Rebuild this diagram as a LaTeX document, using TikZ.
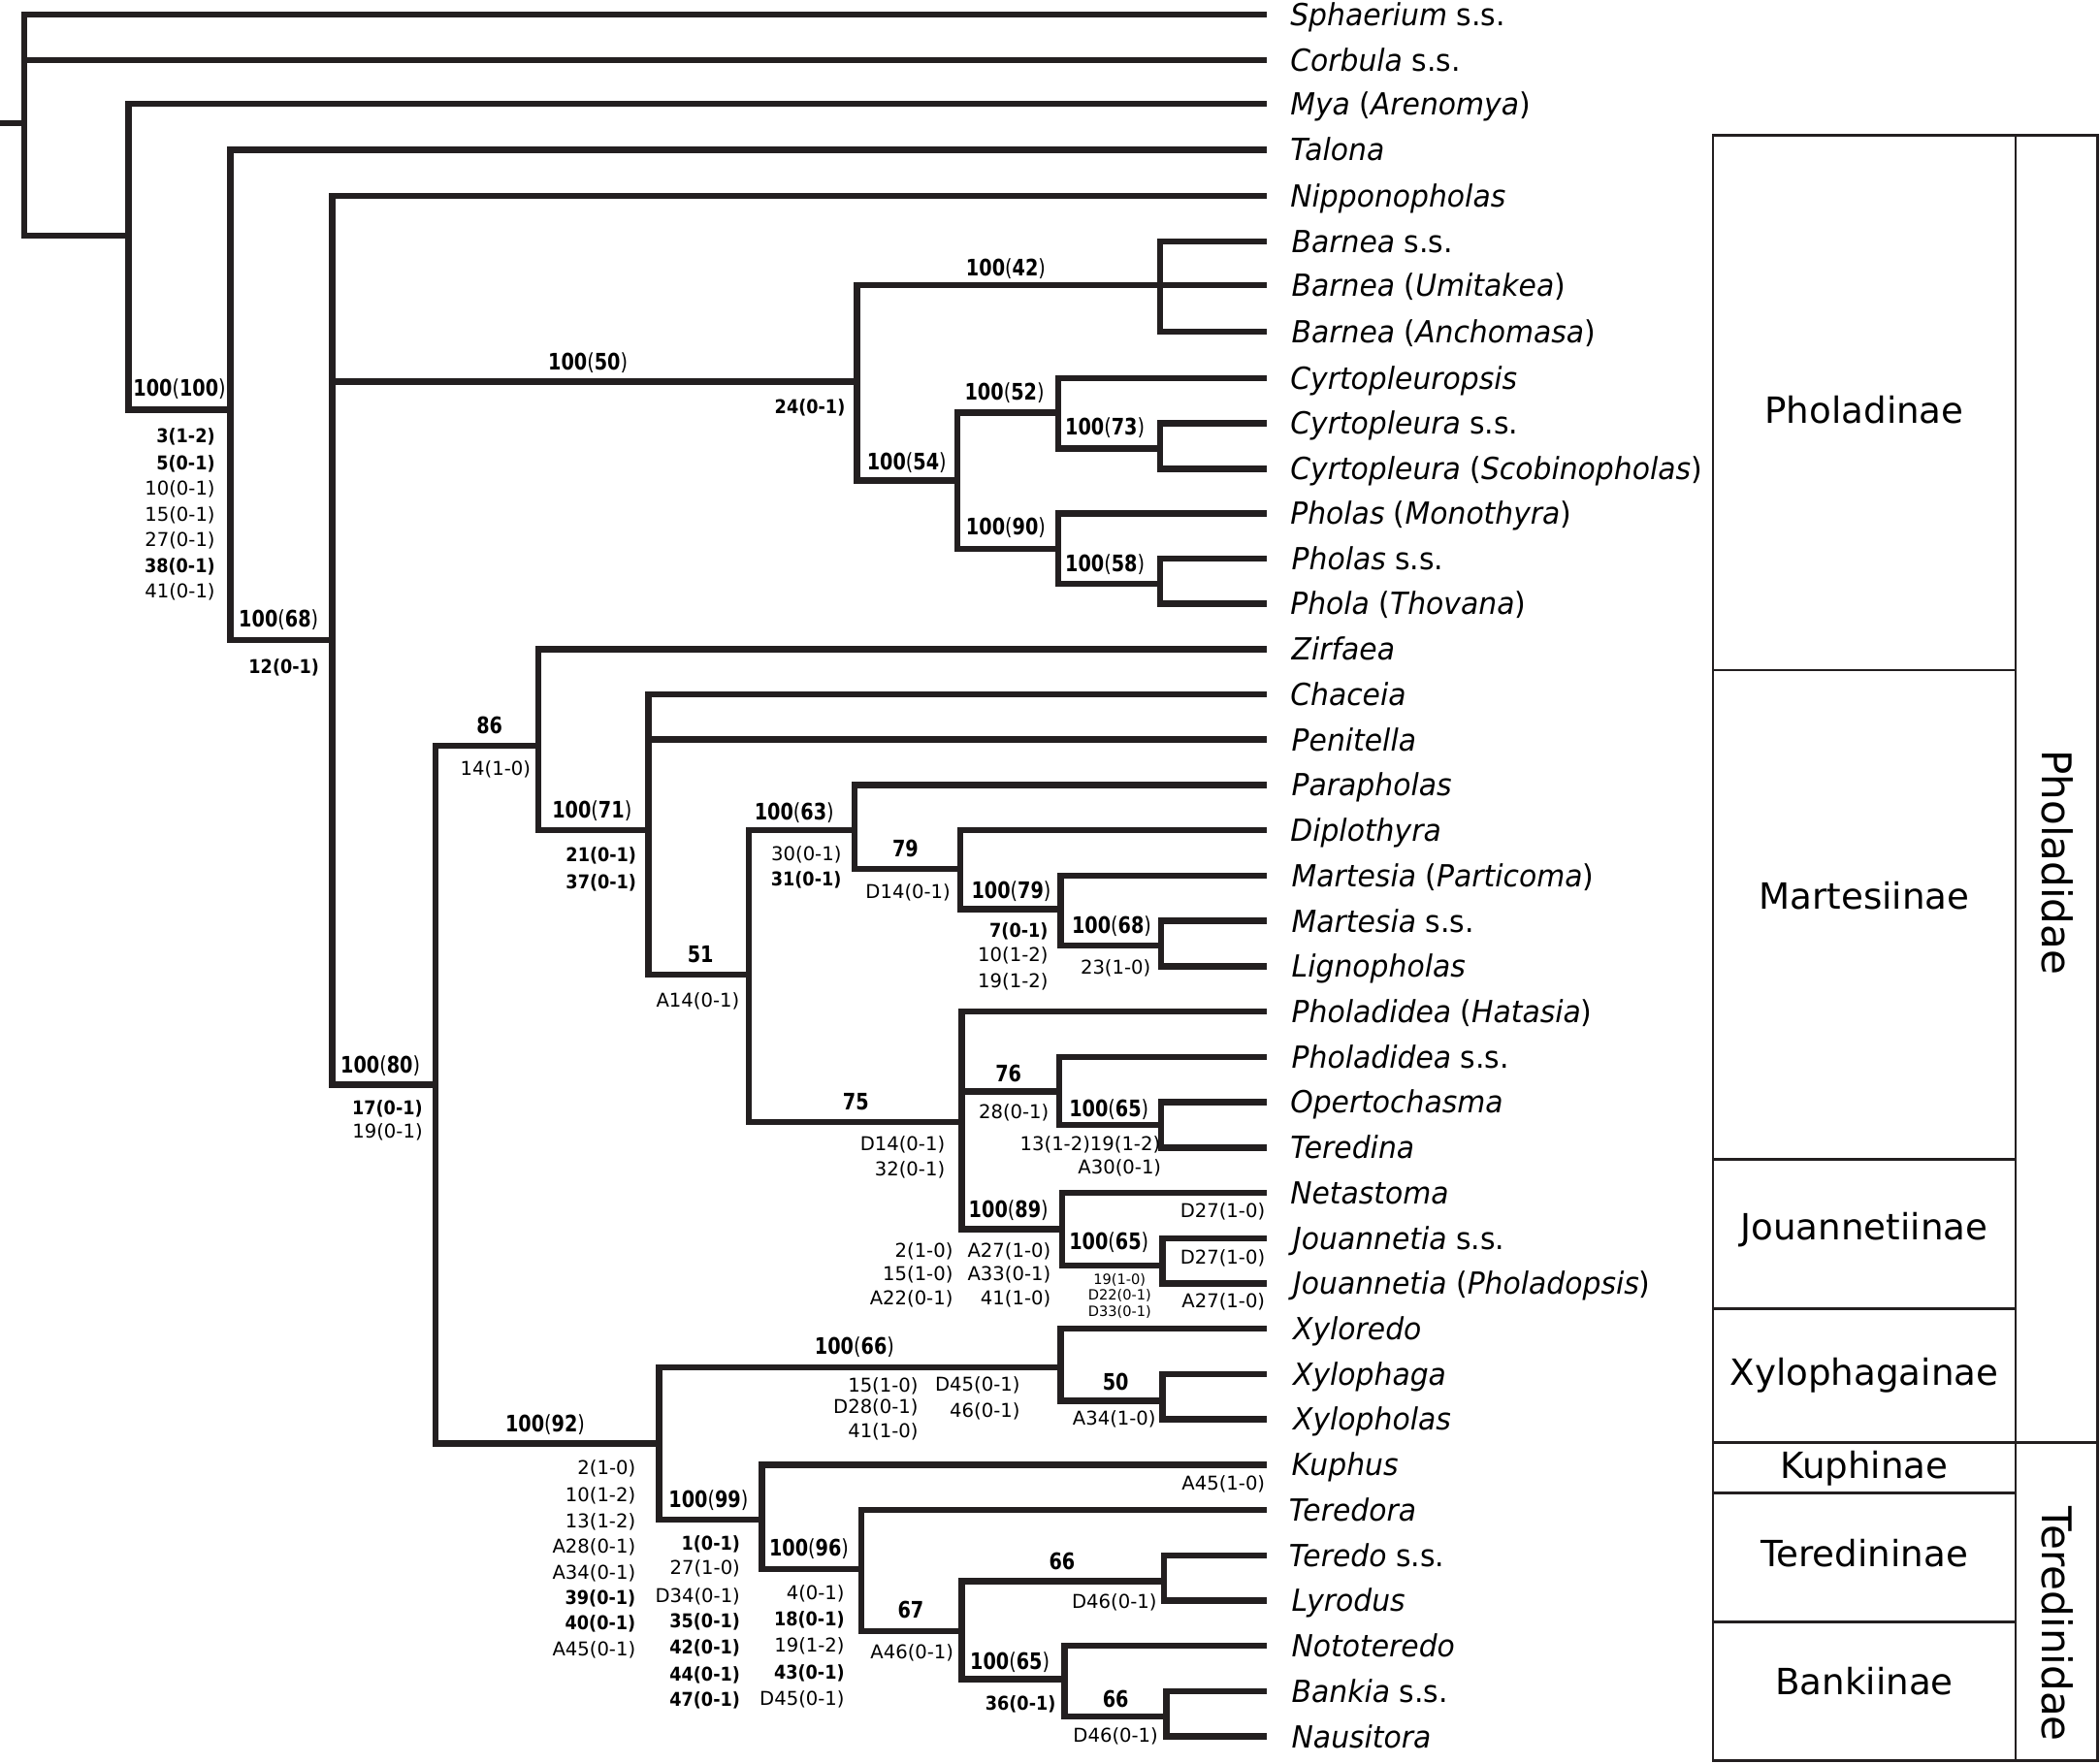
\documentclass[tikz,border=0pt]{standalone}
\usepackage{fontspec}
\setmainfont{DejaVu Sans}
\newfontfamily\taxfont[FakeStretch=0.95]{DejaVu Sans}
\newfontfamily\supfont[FakeStretch=0.82]{DejaVu Sans}
\newfontfamily\bchfont[FakeStretch=0.9]{DejaVu Sans}
\newcommand\bch[1]{{\bchfont\bfseries #1}}
\newcommand\supv[2]{\textbf{#1}(\textbf{#2})}
\definecolor{treec}{RGB}{35,31,32}
\tikzset{
 br/.style={draw=treec, line width=2pt},
 tx/.style={font=\taxfont\fontsize{9.7}{11}\selectfont, anchor=base west, inner sep=0pt, yshift=-3.5pt, text=black},
 sv/.style={font=\supfont\fontsize{7.25}{8}\selectfont, anchor=base, inner sep=0pt, yshift=-2.6pt},
 ch/.style={font=\fontsize{6.06}{7}\selectfont, anchor=base east, inner sep=0pt, yshift=-2.2pt},
 chc/.style={ch, anchor=base},
 tinyl/.style={font=\fontsize{4.5}{5}\selectfont, anchor=base, inner sep=0pt, yshift=-1.6pt},
 sub/.style={font=\fontsize{11.5}{13}\selectfont, anchor=base, inner sep=0pt, yshift=-4.2pt},
 fam/.style={font=\fontsize{13}{15}\selectfont, rotate=-90, inner sep=0pt},
 boxl/.style={draw=treec, line width=0.8pt}
}
\begin{document}
\begin{tikzpicture}[x=0.015cm,y=-0.015cm]
\useasboundingbox (0,0) rectangle (1568,1317);
% tip coordinates
\coordinate (t0) at (946,11);
\coordinate (t1) at (946,44.8);
\coordinate (t2) at (946,77.5);
\coordinate (t3) at (946,112);
\coordinate (t4) at (946,146.4);
\coordinate (t5) at (946,180.2);
\coordinate (t6) at (946,213);
\coordinate (t7) at (946,247.5);
\coordinate (t8) at (946,282.5);
\coordinate (t9) at (946,316);
\coordinate (t10) at (946,350);
\coordinate (t11) at (946,383.5);
\coordinate (t12) at (946,417.1);
\coordinate (t13) at (946,450.9);
\coordinate (t14) at (946,484.8);
\coordinate (t15) at (946,518.6);
\coordinate (t16) at (946,552.4);
\coordinate (t17) at (946,586.3);
\coordinate (t18) at (946,620.1);
\coordinate (t19) at (946,654);
\coordinate (t20) at (946,687.8);
\coordinate (t21) at (946,721.6);
\coordinate (t22) at (946,755.5);
\coordinate (t23) at (946,789.3);
\coordinate (t24) at (946,823.2);
\coordinate (t25) at (946,857);
\coordinate (t26) at (946,890.8);
\coordinate (t27) at (946,924.7);
\coordinate (t28) at (946,958.5);
\coordinate (t29) at (946,992.4);
\coordinate (t30) at (946,1026.2);
\coordinate (t31) at (946,1060);
\coordinate (t32) at (946,1093.9);
\coordinate (t33) at (946,1127.7);
\coordinate (t34) at (946,1161.6);
\coordinate (t35) at (946,1195.4);
\coordinate (t36) at (946,1229.2);
\coordinate (t37) at (946,1263.1);
\coordinate (t38) at (946,1296.9);
% taxon labels
\node[tx] (l0) at (963,11) {\textit{Sphaerium} s.s.};
\node[tx] (l1) at (963,44.8) {\textit{Corbula} s.s.};
\node[tx] (l2) at (963,77.5) {\textit{Mya} (\textit{Arenomya})};
\node[tx] (l3) at (963,112) {\textit{Talona}};
\node[tx] (l4) at (963,146.4) {\textit{Nipponopholas}};
\node[tx] (l5) at (964,180.2) {\textit{Barnea} s.s.};
\node[tx] (l6) at (964,213) {\textit{Barnea} (\textit{Umitakea})};
\node[tx] (l7) at (964,247.5) {\textit{Barnea} (\textit{Anchomasa})};
\node[tx] (l8) at (963,282.5) {\textit{Cyrtopleuropsis}};
\node[tx] (l9) at (963,316) {\textit{Cyrtopleura} s.s.};
\node[tx] (l10) at (963,350) {\textit{Cyrtopleura} (\textit{Scobinopholas})};
\node[tx] (l11) at (963,383.5) {\textit{Pholas} (\textit{Monothyra})};
\node[tx] (l12) at (964,417.1) {\textit{Pholas} s.s.};
\node[tx] (l13) at (963,450.9) {\textit{Phola} (\textit{Thovana})};
\node[tx] (l14) at (964,484.8) {\textit{Zirfaea}};
\node[tx] (l15) at (963,518.6) {\textit{Chaceia}};
\node[tx] (l16) at (964,552.4) {\textit{Penitella}};
\node[tx] (l17) at (964,586.3) {\textit{Parapholas}};
\node[tx] (l18) at (963,620.1) {\textit{Diplothyra}};
\node[tx] (l19) at (964,654) {\textit{Martesia} (\textit{Particoma})};
\node[tx] (l20) at (964,687.8) {\textit{Martesia} s.s.};
\node[tx] (l21) at (964,721.6) {\textit{Lignopholas}};
\node[tx] (l22) at (964,755.5) {\textit{Pholadidea} (\textit{Hatasia})};
\node[tx] (l23) at (964,789.3) {\textit{Pholadidea} s.s.};
\node[tx] (l24) at (963,823.2) {\textit{Opertochasma}};
\node[tx] (l25) at (963,857) {\textit{Teredina}};
\node[tx] (l26) at (963,890.8) {\textit{Netastoma}};
\node[tx] (l27) at (965,924.7) {\textit{Jouannetia} s.s.};
\node[tx] (l28) at (965,958.5) {\textit{Jouannetia} (\textit{Pholadopsis})};
\node[tx] (l29) at (965,992.4) {\textit{Xyloredo}};
\node[tx] (l30) at (965,1026.2) {\textit{Xylophaga}};
\node[tx] (l31) at (965,1060) {\textit{Xylopholas}};
\node[tx] (l32) at (964,1093.9) {\textit{Kuphus}};
\node[tx] (l33) at (962,1127.7) {\textit{Teredora}};
\node[tx] (l34) at (962,1161.6) {\textit{Teredo} s.s.};
\node[tx] (l35) at (964,1195.4) {\textit{Lyrodus}};
\node[tx] (l36) at (964,1229.2) {\textit{Nototeredo}};
\node[tx] (l37) at (964,1263.1) {\textit{Bankia} s.s.};
\node[tx] (l38) at (964,1296.9) {\textit{Nausitora}};
% internal nodes
\coordinate (stub) at (0,92);
\coordinate (root) at (18,92);
\coordinate (nA) at (96,176);
\coordinate (nB) at (172,306);
\coordinate (nC) at (248,478);
\coordinate (nD) at (640,285);
\coordinate (nE) at (866,213);
\coordinate (nF) at (715,359);
\coordinate (nG) at (790,308);
\coordinate (nH) at (866,335);
\coordinate (nI) at (790,410);
\coordinate (nJ) at (866,436);
\coordinate (nK) at (325,810);
\coordinate (nL) at (402,557);
\coordinate (nM) at (484,620);
\coordinate (nN) at (559,728);
\coordinate (nO) at (638,620);
\coordinate (nP) at (717,649);
\coordinate (nQ) at (792,679);
\coordinate (nR) at (867,706);
\coordinate (nS) at (718,838);
\coordinate (nT) at (791,815);
\coordinate (nU) at (867,840);
\coordinate (nV) at (793,918);
\coordinate (nW) at (868,945);
\coordinate (nX) at (492,1078);
\coordinate (nY) at (792,1021);
\coordinate (nZ) at (868,1046);
\coordinate (nAA) at (569,1135);
\coordinate (nAB) at (643,1172);
\coordinate (nAC) at (718,1218);
\coordinate (nAD) at (869,1181);
\coordinate (nAE) at (795,1254);
\coordinate (nAF) at (871,1282);
% branches
\draw[br] (stub) -- (root);
\foreach \p/\c in {root/t0, root/t1, root/nA, nA/t2, nA/nB, nB/t3, nB/nC, nC/t4, nC/nD, nC/nK,
  nD/nE, nD/nF, nE/t5, nE/t6, nE/t7, nF/nG, nF/nI, nG/t8, nG/nH, nH/t9, nH/t10, nI/t11, nI/nJ,
  nJ/t12, nJ/t13, nK/nL, nK/nX, nL/t14, nL/nM, nM/t15, nM/t16, nM/nN, nN/nO, nN/nS, nO/t17,
  nO/nP, nP/t18, nP/nQ, nQ/t19, nQ/nR, nR/t20, nR/t21, nS/t22, nS/nT, nS/nV, nT/t23, nT/nU,
  nU/t24, nU/t25, nV/t26, nV/nW, nW/t27, nW/t28, nX/nY, nX/nAA, nY/t29, nY/nZ, nZ/t30, nZ/t31,
  nAA/t32, nAA/nAB, nAB/t33, nAB/nAC, nAC/nAD, nAC/nAE, nAD/t34, nAD/t35, nAE/t36, nAE/nAF,
  nAF/t37, nAF/t38}
  \draw[br] (\p) |- (\c);
% support values
\node[sv] (s1) at (134,290) {\supv{100}{100}};
\node[sv] (s2) at (208,462) {\supv{100}{68}};
\node[sv] (s3) at (439,270) {\supv{100}{50}};
\node[sv] (s4) at (751,200) {\supv{100}{42}};
\node[sv] (s5) at (677,345) {\supv{100}{54}};
\node[sv] (s6) at (750,293) {\supv{100}{52}};
\node[sv] (s7) at (825,319) {\supv{100}{73}};
\node[sv] (s8) at (751,393.5) {\supv{100}{90}};
\node[sv] (s9) at (825,420.6) {\supv{100}{58}};
\node[sv] (s10) at (284,795) {\supv{100}{80}};
\node[sv] (s11) at (365.5,542) {\textbf{86}};
\node[sv] (s12) at (442,605) {\supv{100}{71}};
\node[sv] (s13) at (523,713) {\textbf{51}};
\node[sv] (s14) at (593,606) {\supv{100}{63}};
\node[sv] (s15) at (676,634) {\textbf{79}};
\node[sv] (s16) at (755,665) {\supv{100}{79}};
\node[sv] (s17) at (830,691) {\supv{100}{68}};
\node[sv] (s18) at (639,822.5) {\textbf{75}};
\node[sv] (s19) at (753,801.5) {\textbf{76}};
\node[sv] (s20) at (828,827.6) {\supv{100}{65}};
\node[sv] (s21) at (753,903) {\supv{100}{89}};
\node[sv] (s22) at (828,927) {\supv{100}{65}};
\node[sv] (s23) at (638,1005.5) {\supv{100}{66}};
\node[sv] (s24) at (833,1032) {\textbf{50}};
\node[sv] (s25) at (407,1063) {\supv{100}{92}};
\node[sv] (s26) at (529,1120) {\supv{100}{99}};
\node[sv] (s27) at (604,1156) {\supv{100}{96}};
\node[sv] (s28) at (680,1202) {\textbf{67}};
\node[sv] (s29) at (793,1166) {\textbf{66}};
\node[sv] (s30) at (754,1240.5) {\supv{100}{65}};
\node[sv] (s31) at (833,1269) {\textbf{66}};
% character state columns
\foreach \y/\t [count=\k] in {325.2/\bch{3(1-2)}, 345.8/\bch{5(0-1)}, 364.8/10(0-1), 384.1/15(0-1), 403/27(0-1), 422.3/\bch{38(0-1)}, 441.6/41(0-1)}
  \node[ch] (ca\k) at (161,\y) {\t};
\node[chc] (cb1) at (212,497.8) {\bch{12(0-1)}};
\node[ch] (cc1) at (316,827) {\bch{17(0-1)}};
\node[ch] (cc2) at (316,845) {19(0-1)};
\node[chc] (cd1) at (370,574) {14(1-0)};
\node[ch] (ce1) at (475.6,638.6) {\bch{21(0-1)}};
\node[ch] (ce2) at (475.6,658.4) {\bch{37(0-1)}};
\node[chc] (cf1) at (521,747) {A14(0-1)};
\node[ch] (cg1) at (628.7,637.8) {30(0-1)};
\node[ch] (cg2) at (628.7,656.2) {\bch{31(0-1)}};
\node[ch] (cx1) at (631.5,304) {\bch{24(0-1)}};
\node[chc] (ch1) at (678,666) {D14(0-1)};
\node[ch] (ci1) at (783,694.6) {\bch{7(0-1)}};
\node[ch] (ci2) at (783,713) {10(1-2)};
\node[ch] (ci3) at (783,732.2) {19(1-2)};
\node[chc] (cj1) at (833,722) {23(1-0)};
\node[ch] (ck1) at (706,854) {D14(0-1)};
\node[ch] (ck2) at (706,873) {32(0-1)};
\node[chc] (cl1) at (757,830) {28(0-1)};
\node[chc] (cm1) at (814,854) {13(1-2)19(1-2)};
\node[chc] (cm2) at (836,871.5) {A30(0-1)};
\node[ch] (cn1) at (945,904) {D27(1-0)};
\node[ch] (cn2) at (945,938.6) {D27(1-0)};
\node[ch] (cn3) at (945,971.7) {A27(1-0)};
\node[ch] (cn4) at (945,1108) {A45(1-0)};
\node[ch] (co1) at (712,934) {2(1-0)};
\node[ch] (co2) at (712,951) {15(1-0)};
\node[ch] (co3) at (712,969) {A22(0-1)};
\node[ch] (cp1) at (785,934) {A27(1-0)};
\node[ch] (cp2) at (785,951) {A33(0-1)};
\node[ch] (cp3) at (785,969) {41(1-0)};
\node[tinyl] (cq1) at (836,955.5) {19(1-0)};
\node[tinyl] (cq2) at (836,967.4) {D22(0-1)};
\node[tinyl] (cq3) at (836,979.7) {D33(0-1)};
\node[ch] (cr1) at (686,1034.5) {15(1-0)};
\node[ch] (cr2) at (686,1050.2) {D28(0-1)};
\node[ch] (cr3) at (686,1068.8) {41(1-0)};
\node[ch] (cs1) at (762,1034) {D45(0-1)};
\node[ch] (cs2) at (762,1053) {46(0-1)};
\node[chc] (ct1) at (832,1059) {A34(1-0)};
\foreach \y/\t [count=\k] in {1096/2(1-0), 1116.6/10(1-2), 1136/13(1-2), 1155/A28(0-1), 1174/A34(0-1), 1193.4/\bch{39(0-1)}, 1212/\bch{40(0-1)}, 1231.3/A45(0-1)}
  \node[ch] (cu\k) at (475,\y) {\t};
\foreach \y/\t [count=\k] in {1152.8/\bch{1(0-1)}, 1171/27(1-0), 1191.4/D34(0-1), 1210.3/\bch{35(0-1)}, 1230/\bch{42(0-1)}, 1250/\bch{44(0-1)}, 1269.4/\bch{47(0-1)}}
  \node[ch] (cv\k) at (553,\y) {\t};
\foreach \y/\t [count=\k] in {1189.7/4(0-1), 1209/\bch{18(0-1)}, 1228.4/19(1-2), 1248.7/\bch{43(0-1)}, 1268.2/D45(0-1)}
  \node[ch] (cw\k) at (631,\y) {\t};
\node[chc] (cy1) at (681,1234) {A46(0-1)};
\node[chc] (cy2) at (832,1196) {D46(0-1)};
\node[chc] (cy3) at (762,1272) {\bch{36(0-1)}};
\node[chc] (cy4) at (833,1296) {D46(0-1)};
% classification boxes
\draw[boxl] (1279,101) rectangle (1566,1315);
\draw[boxl] (1505,101) -- (1505,1315);
\foreach \yy in {500.5,866,977.5,1114.8,1211.4}
  \draw[boxl] (1279,\yy) -- (1505,\yy);
\draw[boxl] (1279,1077.2) -- (1566,1077.2);
\node[sub] (b1) at (1392,306) {Pholadinae};
\node[sub] (b2) at (1392,669) {Martesiinae};
\node[sub] (b3) at (1392,916) {Jouannetiinae};
\node[sub] (b4) at (1392,1025) {Xylophagainae};
\node[sub] (b5) at (1392,1094) {Kuphinae};
\node[sub] (b6) at (1392,1160) {Teredininae};
\node[sub] (b7) at (1392,1256) {Bankiinae};
\node[fam] (f1) at (1536,644) {Pholadidae};
\node[fam] (f2) at (1536,1213) {Teredinidae};
\end{tikzpicture}
\end{document}
